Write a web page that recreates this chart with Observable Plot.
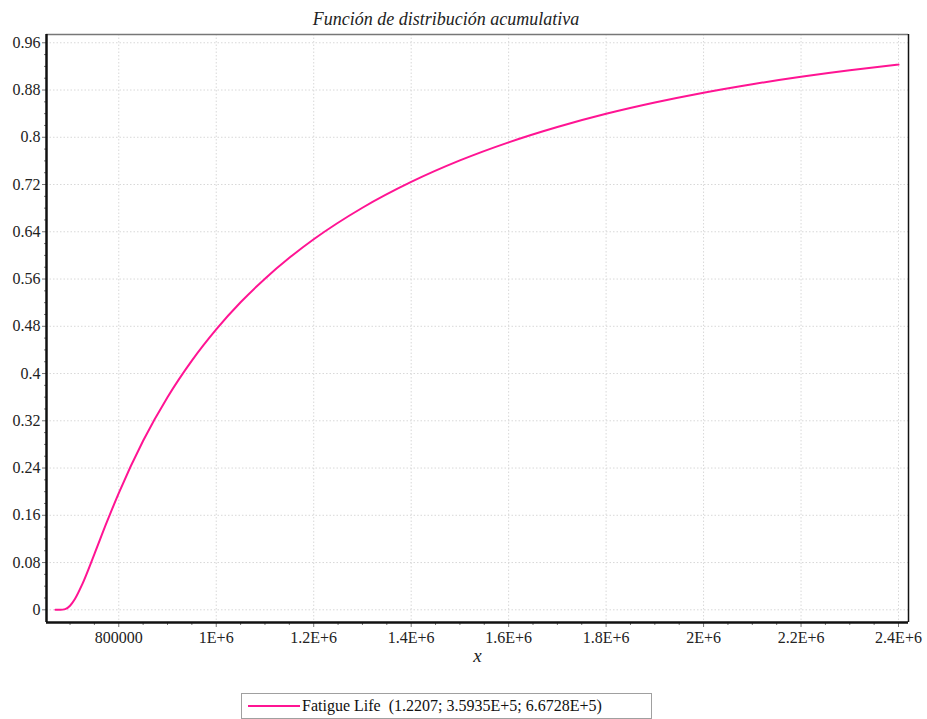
<!DOCTYPE html>
<html>
<head>
<meta charset="utf-8">
<script src="https://cdn.jsdelivr.net/npm/d3@7"></script>
<script src="https://cdn.jsdelivr.net/npm/@observablehq/plot@0.6"></script>
<style>
  html, body { margin: 0; padding: 0; background: #fff; }
  body { width: 927px; height: 719px; overflow: hidden; font-family: 'Liberation Serif', serif; }
  #title { height: 30px; line-height: 30px; width: 927px; font-size: 18px; font-style: italic; color: #222; font-family: 'Liberation Serif', serif; }
  #title span { position: absolute; left: 0; width: 892px; text-align: center; top: 4px; }
  #chart svg, #chart svg text { font-family: 'Liberation Serif', serif !important; }
  #legend { position: absolute; left: 241px; top: 693px; width: 409px; height: 24px; border: 1px solid #a0a0a0; box-sizing: content-box; font-size: 16px; color: #111; display: flex; align-items: center; font-family: 'Liberation Serif', serif; white-space: pre; }
  #legend .swatch { display: inline-block; width: 52px; height: 2px; margin-left: 6px; margin-right: 2px; }
</style>
</head>
<body>
<div id="title"><span></span></div>
<div id="chart"></div>
<div id="legend"><span class="swatch"></span><span class="lbl"></span></div>
<script>
const titleText = "Función de distribución acumulativa";
const xLabel = "x";
const seriesName = "Fatigue Life  (1.2207; 3.5935E+5; 6.6728E+5)";
const seriesColor = "#ff1493";

// x values and cumulative probability
const xs = [670000, 680000, 690000, 700000, 710000, 725000, 750000, 775000, 800000, 850000, 900000, 950000,
  1000000, 1050000, 1100000, 1150000, 1200000, 1300000, 1400000, 1500000, 1600000, 1700000, 1800000,
  1900000, 2000000, 2100000, 2200000, 2300000, 2400000];
const cdf = [0, 0.0000, 0.0011, 0.0068, 0.0182, 0.0431, 0.0944, 0.1474, 0.1976, 0.2861, 0.3599, 0.4219,
  0.4748, 0.5206, 0.5606, 0.5959, 0.6273, 0.6807, 0.7244, 0.7608, 0.7914, 0.8174, 0.8397,
  0.8588, 0.8754, 0.8898, 0.9024, 0.9134, 0.9230];

const xDomain = [651700, 2420500];
const yDomain = [-0.0215, 0.974];

const xTicks = [800000, 1000000, 1200000, 1400000, 1600000, 1800000, 2000000, 2200000, 2400000];
const xTickLabels = ["800000", "1E+6", "1.2E+6", "1.4E+6", "1.6E+6", "1.8E+6", "2E+6", "2.2E+6", "2.4E+6"];
const xMinor = [700000, 750000, 850000, 900000, 950000, 1050000, 1100000, 1150000, 1250000, 1300000, 1350000,
  1450000, 1500000, 1550000, 1650000, 1700000, 1750000, 1850000, 1900000, 1950000, 2050000, 2100000, 2150000,
  2250000, 2300000, 2350000];
const yTicks = [0, 0.08, 0.16, 0.24, 0.32, 0.4, 0.48, 0.56, 0.64, 0.72, 0.8, 0.88, 0.96];
const yTickLabels = ["0", "0.08", "0.16", "0.24", "0.32", "0.4", "0.48", "0.56", "0.64", "0.72", "0.8", "0.88", "0.96"];
const yMinor = [0.02, 0.04, 0.06, 0.10, 0.12, 0.14, 0.18, 0.20, 0.22, 0.26, 0.28, 0.30, 0.34, 0.36, 0.38,
  0.42, 0.44, 0.46, 0.50, 0.52, 0.54, 0.58, 0.60, 0.62, 0.66, 0.68, 0.70, 0.74, 0.76, 0.78, 0.82, 0.84, 0.86,
  0.90, 0.92, 0.94];

const data = xs.map((x, i) => ({x, p: cdf[i]}));
const xFmt = new Map(xTicks.map((t, i) => [t, xTickLabels[i]]));
const yFmt = new Map(yTicks.map((t, i) => [t, yTickLabels[i]]));

document.querySelector("#title span").textContent = titleText;
document.querySelector("#legend .swatch").style.background = seriesColor;
document.querySelector("#legend .lbl").textContent = seriesName;

const serif = "'Liberation Serif', serif";
const gridStyle = {stroke: "#d8d8d8", strokeDasharray: "1.5,2", strokeWidth: 1};

const chart = Plot.plot({
  width: 927,
  height: 654,
  marginTop: 4,
  marginBottom: 62,
  marginLeft: 46,
  marginRight: 19,
  style: {fontFamily: serif, fontSize: "16px", color: "#222", background: "#fff"},
  x: {domain: xDomain, label: null},
  y: {domain: yDomain, label: null},
  marks: [
    Plot.ruleX(xTicks, gridStyle),
    Plot.ruleY(yTicks, gridStyle),
    Plot.axisX(xMinor, {tickSize: 3, text: null, stroke: "#777", label: null}),
    Plot.axisY(yMinor, {tickSize: 2, text: null, stroke: "#777", label: null}),
    Plot.axisX(xTicks, {tickSize: 5, tickPadding: 4, tickFormat: d => xFmt.get(d), stroke: "#777", fill: "#222", fontSize: 16, fontFamily: serif, label: null}),
    Plot.axisY(yTicks, {tickSize: 4, tickPadding: 2, tickFormat: d => yFmt.get(d), stroke: "#777", fill: "#222", fontSize: 16, fontFamily: serif, label: null}),
    Plot.line(data, {x: "x", y: "p", stroke: seriesColor, strokeWidth: 2, curve: "monotone-x"}),
    Plot.ruleY([yDomain[1]], {stroke: "#777", strokeWidth: 1.5}),
    Plot.ruleX([xDomain[1]], {stroke: "#111", strokeWidth: 1.5}),
    Plot.ruleX([xDomain[0]], {stroke: "#111", strokeWidth: 2.5}),
    Plot.ruleY([yDomain[0]], {stroke: "#111", strokeWidth: 2.5}),
    Plot.text([xLabel], {frameAnchor: "bottom", dy: 39, text: d => d, fontStyle: "italic", fontSize: 19, fontFamily: serif, fill: "#222"})
  ]
});
document.getElementById("chart").appendChild(chart);
</script>
</body>
</html>
